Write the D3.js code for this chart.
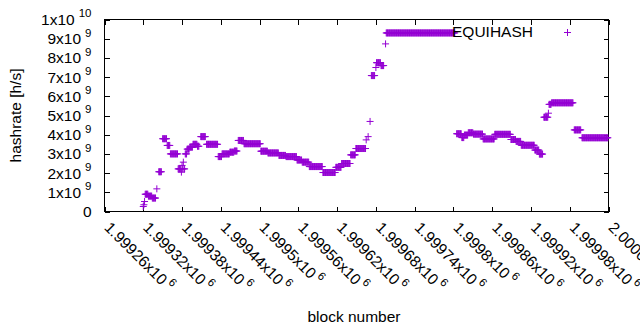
<!DOCTYPE html>
<html>
<head>
<meta charset="utf-8">
<script src="https://cdnjs.cloudflare.com/ajax/libs/d3/7.8.5/d3.min.js"></script>
<style>
body { margin: 0; background: #fff; }
svg { display: block; font-family: "Liberation Sans", Arial, sans-serif; }
</style>
</head>
<body>
<svg width="640" height="330"></svg>
<script>
var runFirst = [1999320, 1999321, 1999322, 1999323, 1999328, 1999334, 1999341, 1999344, 1999350, 1999357,
    1999362, 1999374, 1999379, 1999380, 1999381, 1999382, 1999383, 1999385, 1999388, 1999392,
    1999397, 1999404, 1999409, 1999418, 1999436, 1999442, 1999454, 1999461, 1999467, 1999476,
    1999502, 1999513, 1999530, 1999541, 1999558, 1999566, 1999577, 1999598, 1999618, 1999627,
    1999641, 1999649, 1999665, 1999668, 1999671, 1999673, 1999680, 1999681, 1999688, 1999695,
    1999696, 1999805, 1999813, 1999817, 1999823, 1999831, 1999846, 1999864, 1999889, 1999897,
    1999905, 1999926, 1999933, 1999940, 1999947, 1999948, 1999952, 1999987, 1999999];
var runLast = [1999320, 1999321, 1999322, 1999327, 1999333, 1999339, 1999341, 1999348, 1999356, 1999361,
    1999373, 1999378, 1999379, 1999380, 1999381, 1999382, 1999384, 1999387, 1999391, 1999396,
    1999403, 1999406, 1999416, 1999435, 1999441, 1999453, 1999460, 1999465, 1999475, 1999501,
    1999512, 1999529, 1999540, 1999557, 1999565, 1999576, 1999597, 1999617, 1999626, 1999640,
    1999648, 1999664, 1999665, 1999668, 1999671, 1999678, 1999680, 1999687, 1999692, 1999695,
    1999802, 1999812, 1999816, 1999822, 1999830, 1999845, 1999863, 1999888, 1999896, 1999904,
    1999925, 1999932, 1999938, 1999946, 1999947, 1999951, 1999985, 1999997, 2000039];
var runRate = [0.26, 0.35, 0.52, 0.9, 0.8, 0.7, 1.18, 2.07, 3.79, 3.44,
    3.0, 2.22, 2.05, 2.4, 2.22, 2.57, 2.22, 3.0, 3.25, 3.35,
    3.5, 3.4, 3.9, 3.5, 2.86, 3.0, 3.09, 3.15, 3.7, 3.53,
    3.14, 3.05, 2.92, 2.86, 2.68, 2.57, 2.34, 2.03, 2.3, 2.5,
    2.95, 3.28, 3.73, 3.9, 4.69, 7.08, 7.5, 7.75, 7.6, 8.73,
    9.3, 4.05, 3.85, 3.98, 4.1, 4.03, 3.78, 4.02, 3.75, 3.65,
    3.45, 3.2, 2.99, 4.91, 5.12, 5.58, 5.66, 4.25, 3.84];

var xTicks = [1999260, 1999320, 1999380, 1999440, 1999500, 1999560, 1999620,
    1999680, 1999740, 1999800, 1999860, 1999920, 1999980, 2000040];
var xTickLabels = ["1.99926", "1.99932", "1.99938", "1.99944", "1.9995", "1.99956", "1.99962",
    "1.99968", "1.99974", "1.9998", "1.99986", "1.99992", "1.99998", "2.00004"];
var yTicks = [0, 1, 2, 3, 4, 5, 6, 7, 8, 9, 10];
var yTickLabels = ["0", "1x10", "2x10", "3x10", "4x10", "5x10", "6x10", "7x10", "8x10", "9x10", "1x10"];
var yTickExps = ["", "9", "9", "9", "9", "9", "9", "9", "9", "9", "10"];

var color = "#9400d3";

var points = [];
runFirst.forEach(function(first, i) {
    for (var b = first; b <= runLast[i]; b++) {
        points.push({block: b, rate: runRate[i]});
    }
});

var svg = d3.select("svg"),
    margin = {top: 19, right: 31, bottom: 119, left: 104},
    width = +svg.attr("width"),
    height = +svg.attr("height");

var x = d3.scaleLinear()
    .domain([1999260, 2000040])
    .range([margin.left + 0.5, width - margin.right - 0.5]);

var y = d3.scaleLinear()
    .domain([0, 10])
    .range([height - margin.bottom + 0.5, margin.top + 0.5]);

var plus = "M-3.5,0H3.5M0,-3.5V3.5";

// bottom axis with rotated labels
var xAxis = svg.append("g")
    .attr("class", "x axis")
    .attr("transform", "translate(0," + y(0) + ")")
    .call(d3.axisBottom(x).tickValues(xTicks).tickSizeInner(-5).tickSizeOuter(0));

xAxis.selectAll(".tick text").each(function(d, i) {
    var t = d3.select(this);
    t.text(null)
        .attr("x", 0)
        .attr("y", 0)
        .attr("dy", null)
        .attr("text-anchor", "start")
        .attr("transform", "translate(-1.5,17) rotate(45)");
    t.append("tspan").text(xTickLabels[i] + "x10");
    t.append("tspan").attr("dx", 3).attr("dy", -7).style("font-size", "11.5px").text("6");
});

svg.append("g")
    .attr("class", "x2 axis")
    .attr("transform", "translate(0," + y(10) + ")")
    .call(d3.axisTop(x).tickValues(xTicks).tickSizeInner(-5).tickSizeOuter(0).tickFormat(""));

var yAxis = svg.append("g")
    .attr("class", "y axis")
    .attr("transform", "translate(" + x(1999260) + ",0)")
    .call(d3.axisLeft(y).tickValues(yTicks).tickSizeInner(-5).tickSizeOuter(0).tickPadding(13));

yAxis.selectAll(".tick text").each(function(d, i) {
    var t = d3.select(this);
    t.text(null);
    t.append("tspan").text(yTickLabels[i]);
    if (yTickExps[i]) {
        t.append("tspan").attr("dx", 4).attr("dy", -7.5).style("font-size", "11.5px").text(yTickExps[i]);
    }
});

svg.append("g")
    .attr("class", "y2 axis")
    .attr("transform", "translate(" + x(2000040) + ",0)")
    .call(d3.axisRight(y).tickValues(yTicks).tickSizeInner(-5).tickSizeOuter(0).tickFormat(""));

svg.selectAll(".axis .domain").remove();
svg.selectAll(".axis line").attr("stroke", "#000").attr("shape-rendering", "crispEdges");
svg.selectAll(".axis text")
    .attr("fill", "#000")
    .style("font-family", "'Liberation Sans', Arial, sans-serif")
    .style("font-size", function() { return this.style.fontSize || "15.5px"; });

// border
svg.append("rect")
    .attr("x", x(1999260))
    .attr("y", y(10))
    .attr("width", x(2000040) - x(1999260))
    .attr("height", y(0) - y(10))
    .attr("fill", "none")
    .attr("stroke", "#000")
    .attr("stroke-width", 1)
    .attr("shape-rendering", "crispEdges");

// data points
svg.append("g")
    .attr("stroke", color)
    .attr("stroke-width", 1)
    .attr("fill", "none")
    .selectAll("path")
    .data(points)
    .enter()
    .append("path")
    .attr("d", plus)
    .attr("transform", function(d) {
        return "translate(" + x(d.block) + "," + y(d.rate) + ")";
    });

// key
svg.append("text")
    .attr("x", 533)
    .attr("y", 37)
    .attr("text-anchor", "end")
    .style("font-size", "15.5px")
    .text("EQUIHASH");

svg.append("path")
    .attr("d", plus)
    .attr("stroke", color)
    .attr("stroke-width", 1)
    .attr("transform", "translate(567.5,32.5)");

// axis titles
svg.append("text")
    .attr("transform", "translate(21," + (y(5)) + ") rotate(-90)")
    .attr("text-anchor", "middle")
    .style("font-size", "15.5px")
    .text("hashrate [h/s]");

svg.append("text")
    .attr("x", 354)
    .attr("y", 321.5)
    .attr("text-anchor", "middle")
    .style("font-size", "15.5px")
    .text("block number");
</script>
</body>
</html>
